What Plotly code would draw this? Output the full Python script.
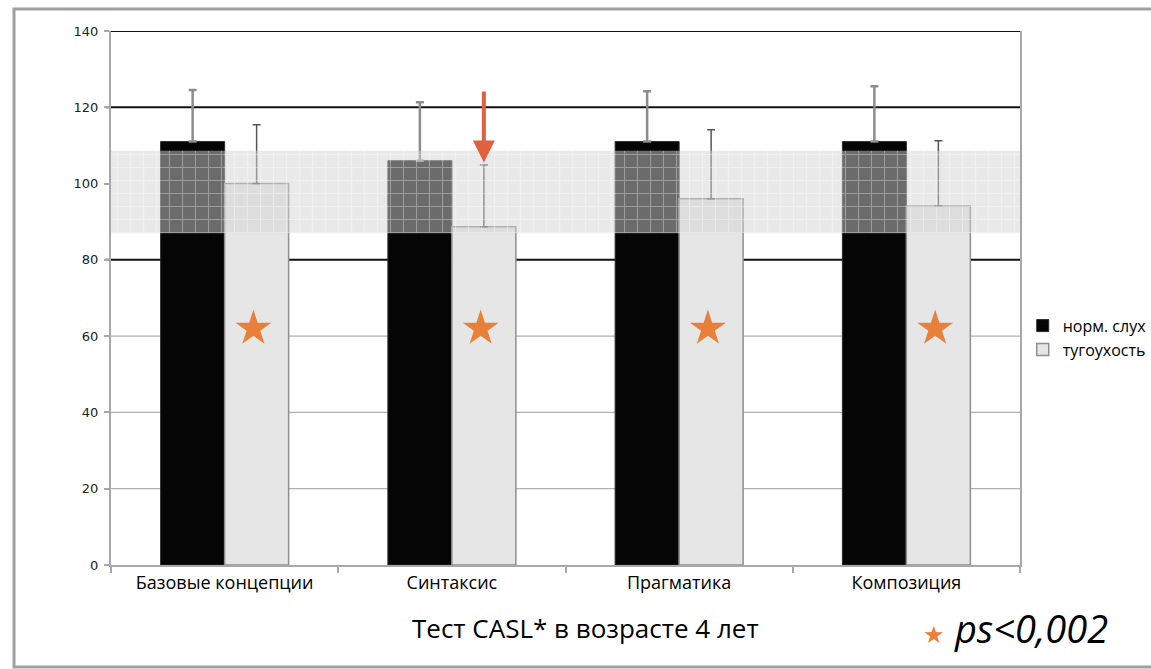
import plotly.graph_objects as go

# ---- data ----
categories = ["Базовые концепции", "Синтаксис", "Прагматика", "Композиция"]
normal_hearing = [111, 106, 111, 111]          # норм. слух
normal_err = [13.5, 15.3, 13.2, 14.5]
hearing_loss = [100, 88.7, 96, 94.1]           # тугоухость
hearing_loss_err = [15.4, 16.2, 18.1, 17.1]
star_level = [62, 62, 62, 62]                  # significance markers
norm_band = [87, 108.6]                        # normative range band
y_ticks = [0, 20, 40, 60, 80, 100, 120, 140]
light_grid = [20, 40, 60]
strong_grid = [80, 120, 140]
series_names = ["норм. слух", "тугоухость"]
title_text = "Тест CASL* в возрасте 4 лет"
note_text = "ps&lt;0,002"

BAR_W = 0.2816
xs = list(range(len(categories)))
FONT = "Open Sans, Noto Sans, sans-serif"

fig = go.Figure()

fig.add_trace(go.Bar(
    x=xs, y=normal_hearing, offset=-BAR_W, width=BAR_W,
    name=series_names[0],
    marker=dict(color="#050505", line=dict(color="#2a2a2a", width=1)),
    error_y=dict(type="data", symmetric=False, array=normal_err,
                 arrayminus=[0] * len(xs), color="#8c8c8c", thickness=2.5, width=4),
    hoverinfo="skip",
))
fig.add_trace(go.Bar(
    x=xs, y=hearing_loss, offset=0, width=BAR_W,
    name=series_names[1],
    marker=dict(color="#e6e6e6", line=dict(color="#8f8f8f", width=1.5)),
    error_y=dict(type="data", symmetric=False, array=hearing_loss_err,
                 arrayminus=[0] * len(xs), color="#555555", thickness=1.5, width=4),
    hoverinfo="skip",
))
fig.add_trace(go.Scatter(
    x=[x + BAR_W * 0.45 for x in xs], y=star_level, mode="markers",
    marker=dict(symbol="star", size=27, color="#e8803a", line=dict(width=0)),
    showlegend=False, hoverinfo="skip",
))
# normative band overlay (semi-transparent patterned)
fig.add_trace(go.Bar(
    x=[0.5], y=[norm_band[1] - norm_band[0]], base=[norm_band[0]], width=[1.0],
    xaxis="x2", yaxis="y",
    marker=dict(color="rgba(210,210,210,0.5)", line=dict(width=0),
                pattern=dict(shape="+", size=13, solidity=0.15,
                             fgcolor="rgba(255,255,255,0.65)",
                             bgcolor="rgba(212,212,212,0.5)", fillmode="overlay")),
    showlegend=False, hoverinfo="skip",
))

shapes = []
for g in light_grid:
    shapes.append(dict(type="line", xref="paper", yref="y", x0=0, x1=1,
                       y0=g, y1=g, line=dict(color="#b0b0b0", width=1.2), layer="between"))
for g in strong_grid:
    shapes.append(dict(type="line", xref="paper", yref="y", x0=-0.006, x1=1,
                       y0=g, y1=g, line=dict(color="#111111", width=2), layer="between"))
# outer frame
shapes.append(dict(type="rect", xref="paper", yref="paper",
                   x0=-0.1067, x1=1.25, y0=-0.191, y1=1.0412,
                   line=dict(color="#a0a0a0", width=3), layer="below"))

annotations = [
    dict(text=title_text, xref="paper", yref="paper", x=0.5215, y=-0.118,
         xanchor="center", yanchor="middle", showarrow=False,
         font=dict(family=FONT, size=26, color="#000000")),
    dict(text="<span style='color:#e8803a;font-size:24px'>★</span> <i>" + note_text + "</i>",
         xref="paper", yref="paper", x=0.9945, y=-0.118,
         xanchor="center", yanchor="middle", showarrow=False,
         font=dict(family=FONT, size=38, color="#000000")),
    # arrow pointing to the syntax deficit
    dict(x=xs[1] + BAR_W / 2, y=105.5, xref="x", yref="y",
         ax=xs[1] + BAR_W / 2, ay=124.5, axref="x", ayref="y",
         text="", showarrow=True, arrowhead=2, arrowsize=1.1,
         arrowwidth=4, arrowcolor="#e0603f"),
]

fig.update_layout(
    width=1151, height=669,
    margin=dict(l=111, r=131, t=31, b=104, autoexpand=False),
    paper_bgcolor="white", plot_bgcolor="white",
    barmode="overlay",
    showlegend=True,
    legend=dict(x=1.003, y=0.48, xanchor="left", yanchor="top",
                font=dict(family=FONT, size=16, color="#000000"),
                itemwidth=30, tracegroupgap=2, bgcolor="rgba(0,0,0,0)"),
    xaxis=dict(range=[-0.5, len(categories) - 0.5], tickvals=xs, ticktext=categories,
               ticks="", showgrid=False, zeroline=False,
               showline=True, linecolor="#a8a8a8", linewidth=2,
               tickfont=dict(family=FONT, size=18, color="#000000"),
               minor=dict(tickvals=[x - 0.5 for x in range(len(categories) + 1)],
                          ticks="outside", ticklen=6, tickcolor="#a8a8a8", tickwidth=2,
                          showgrid=False)),
    xaxis2=dict(overlaying="x", range=[0, 1], visible=False, showgrid=False, zeroline=False),
    yaxis=dict(range=[0, 140], tickvals=y_ticks, ticks="outside", ticklen=5,
               tickcolor="#a8a8a8", tickwidth=2,
               showgrid=False,
               zeroline=False, showline=True, mirror=True, linecolor="#a8a8a8", linewidth=2,
               tickfont=dict(family="DejaVu Sans", size=13, color="#222222"),
               ticklabelstandoff=3),
    shapes=shapes,
    annotations=annotations,
)

fig.write_html("out.html", config={"displayModeBar": False},
               post_script="document.body.style.margin='0';")
